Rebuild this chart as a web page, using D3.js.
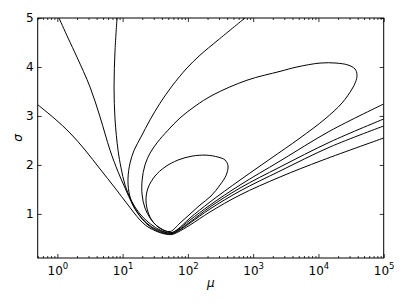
<!DOCTYPE html>
<html>
<head>
<meta charset="utf-8">
<script src="https://cdn.jsdelivr.net/npm/d3@7"></script>
<style>
    body { margin: 0; background: #fff; }
    svg { display: block; }
    text { font-family: "DejaVu Sans", sans-serif; fill: #000; }
</style>
</head>
<body>
<svg id="chart" width="407" height="305"></svg>
<script>
// contour lines as [mu, sigma]
let lineA = [[0.5, 3.23], [0.922, 2.938], [1.566, 2.652], [2.66, 2.305], [4.51, 1.917],
    [7.66, 1.529], [12.1, 1.182], [18.5, 0.876], [24.5, 0.733], [33.6, 0.641], [44.6, 0.59],
    [57.1, 0.58], [70.6, 0.63], [108, 0.774], [218, 1.04], [629, 1.386], [2580, 1.754],
    [11700, 2.10], [100000, 2.55]];

let lineB = [[1.06, 5.0], [1.46, 4.59], [2.0, 4.2], [3.17, 3.59], [4.51, 2.98], [6.42, 2.30],
    [8.51, 1.86], [10.9, 1.53], [14.4, 1.18], [19.9, 0.896], [28.2, 0.712], [40.2, 0.621],
    [53.3, 0.59], [70.6, 0.651], [108, 0.815], [218, 1.10], [629, 1.468], [2580, 1.876],
    [15000, 2.366], [100000, 2.795]];

let lineC = [[8.22, 5.0], [7.66, 4.35], [7.39, 3.59], [7.66, 2.92], [8.51, 2.30], [9.46, 1.94],
    [10.9, 1.59], [13.5, 1.28], [17.9, 1.02], [24.5, 0.835], [34.9, 0.692], [46.3, 0.62],
    [57.1, 0.60], [70.6, 0.661], [108, 0.835], [218, 1.141], [629, 1.529], [2580, 1.958],
    [15000, 2.468], [100000, 2.938]];

let lineD = [[750, 5.0], [290, 4.55], [153, 4.24], [97, 3.98], [57.1, 3.61], [37.4, 3.26],
    [26.3, 2.92], [19.1, 2.57], [15.0, 2.30], [13.0, 2.04], [12.1, 1.733], [12.5, 1.447],
    [14.4, 1.18], [18.5, 0.957], [25.4, 0.774], [36.1, 0.661], [53.3, 0.61], [70.6, 0.682],
    [108, 0.876], [218, 1.18], [629, 1.59], [2580, 2.08], [15000, 2.693], [100000, 3.244]];

// closed loops
let loopE = [[2580, 3.91], [805, 3.73], [243, 3.43], [129, 3.20], [75.9, 2.96], [49.6, 2.71],
    [33.6, 2.45], [26.3, 2.24], [22.0, 2.0], [19.9, 1.69], [19.9, 1.386], [22.0, 1.12],
    [26.3, 0.917], [33.6, 0.753], [44.6, 0.651], [57.1, 0.621], [70.6, 0.692], [108, 0.917],
    [218, 1.243], [629, 1.692], [1815, 2.121], [5220, 2.55], [12600, 2.938], [23000, 3.265],
    [32700, 3.55], [37000, 3.69], [39000, 3.84], [36300, 3.96], [28400, 4.04], [18600, 4.08],
    [10600, 4.08], [4700, 4.0]];

let loopF = [[53.3, 0.641], [37.4, 0.712], [29.2, 0.835], [24.5, 1.039], [22.8, 1.284],
    [24.5, 1.529], [31.4, 1.774], [44.6, 1.958], [70.6, 2.10], [116, 2.18], [190, 2.20],
    [290, 2.16], [371, 2.10], [412, 1.98], [385, 1.79], [310, 1.59], [226, 1.366],
    [153, 1.18], [108, 0.998], [75.9, 0.815]];

let muTicks = [1, 10, 100, 1000, 10000, 100000];
let muExponents = ["0", "1", "2", "3", "4", "5"];
let sigmaTicks = [1, 2, 3, 4, 5];

let width = 407, height = 305;
let margin = {top: 18, right: 23.3, bottom: 47, left: 37.7};

let svg = d3.select("#chart");

let x = d3.scaleLog()
    .domain([0.5, 100000])
    .range([margin.left, width - margin.right]);

let y = d3.scaleLinear()
    .domain([0.1, 5])
    .range([height - margin.bottom, margin.top]);

let plot = svg.append("g");

let line = d3.line()
    .x(d => x(d[0]))
    .y(d => y(d[1]))
    .curve(d3.curveCatmullRom.alpha(0.5));

let loop = d3.line()
    .x(d => x(d[0]))
    .y(d => y(d[1]))
    .curve(d3.curveCatmullRomClosed.alpha(0.5));

svg.append("clipPath")
    .attr("id", "clip")
    .append("rect")
    .attr("x", margin.left)
    .attr("y", margin.top)
    .attr("width", width - margin.left - margin.right)
    .attr("height", height - margin.top - margin.bottom);

plot.attr("clip-path", "url(#clip)");

[lineA, lineB, lineC, lineD].forEach(function (d) {
    plot.append("path")
        .attr("d", line(d))
        .attr("fill", "none")
        .attr("stroke", "#000")
        .attr("stroke-width", 1);
});

[loopE, loopF].forEach(function (d) {
    plot.append("path")
        .attr("d", loop(d))
        .attr("fill", "none")
        .attr("stroke", "#000")
        .attr("stroke-width", 1);
});

// minor ticks on the log axis
let minor = x.ticks().filter(t => muTicks.indexOf(t) < 0 && t >= 0.5);

let plotBottom = height - margin.bottom;
let plotTop = margin.top;

svg.append("g")
    .attr("transform", "translate(0," + plotBottom + ")")
    .call(d3.axisBottom(x).tickValues(minor).tickSize(-2).tickFormat(""));

svg.append("g")
    .attr("transform", "translate(0," + plotTop + ")")
    .call(d3.axisTop(x).tickValues(minor).tickSize(-2).tickFormat(""));

let xAxis = svg.append("g")
    .attr("transform", "translate(0," + plotBottom + ")")
    .call(d3.axisBottom(x).tickValues(muTicks).tickSize(-4).tickPadding(8).tickFormat(""));

xAxis.selectAll(".tick text")
    .attr("font-size", 12)
    .each(function (d, i) {
        let t = d3.select(this);
        t.append("tspan").text("10");
        t.append("tspan")
            .attr("font-size", 8.5)
            .attr("dy", "-0.6em")
            .text(muExponents[i]);
    });

svg.append("g")
    .attr("transform", "translate(0," + plotTop + ")")
    .call(d3.axisTop(x).tickValues(muTicks).tickSize(-4).tickFormat(""));

let yAxis = svg.append("g")
    .attr("transform", "translate(" + margin.left + ",0)")
    .call(d3.axisLeft(y).tickValues(sigmaTicks).tickSize(-4).tickPadding(4)
        .tickFormat(d3.format("d")));

yAxis.selectAll(".tick text").attr("font-size", 12);

svg.append("g")
    .attr("transform", "translate(" + (width - margin.right) + ",0)")
    .call(d3.axisRight(y).tickValues(sigmaTicks).tickSize(-4).tickFormat(""));

svg.selectAll(".domain").remove();
svg.selectAll(".tick line").attr("stroke", "#000").attr("stroke-width", 0.8);

// frame
svg.append("rect")
    .attr("x", margin.left)
    .attr("y", margin.top)
    .attr("width", width - margin.left - margin.right)
    .attr("height", height - margin.top - margin.bottom)
    .attr("fill", "none")
    .attr("stroke", "#000")
    .attr("stroke-width", 1);

svg.append("text")
    .attr("x", (margin.left + width - margin.right) / 2)
    .attr("y", 287)
    .attr("text-anchor", "middle")
    .attr("font-size", 12)
    .attr("font-style", "italic")
    .text("μ");

svg.append("text")
    .attr("transform", "translate(22," + ((plotTop + plotBottom) / 2) + ") rotate(-90)")
    .attr("text-anchor", "middle")
    .attr("font-size", 12)
    .attr("font-style", "italic")
    .text("σ");
</script>
</body>
</html>
